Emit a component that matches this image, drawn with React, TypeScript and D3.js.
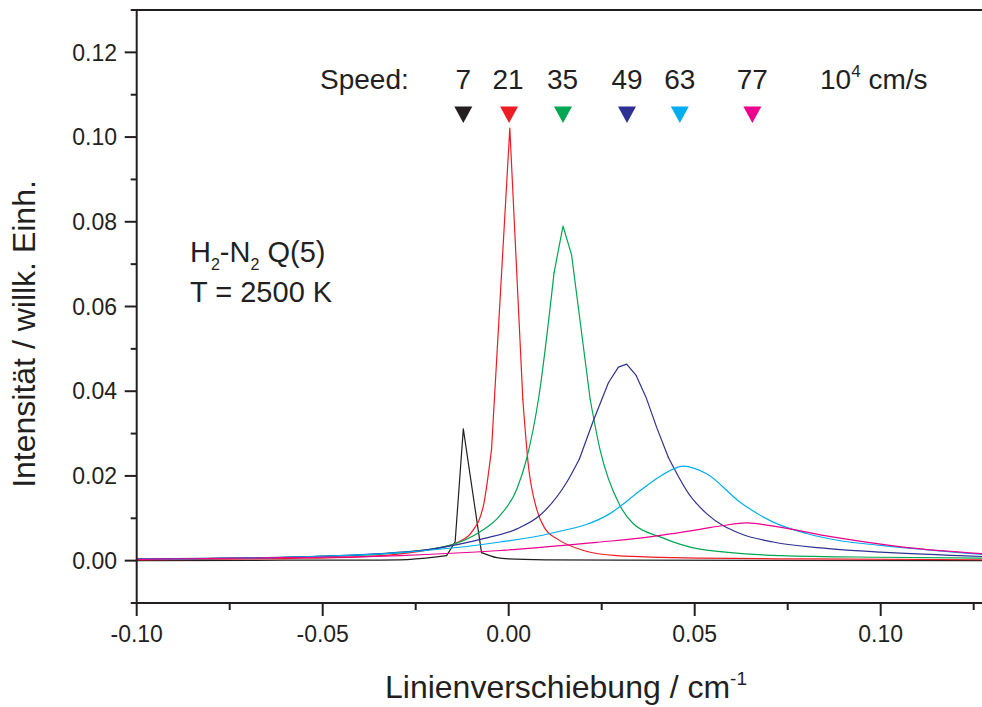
import React from "react";
import * as d3 from "d3";

const W = 982;
const H = 707;

const xTicksMajor = [-0.1, -0.05, 0, 0.05, 0.1];
const xTicksMinor = [-0.075, -0.025, 0.025, 0.075, 0.125];
const yTicksMajor = [0, 0.02, 0.04, 0.06, 0.08, 0.1, 0.12];
const yTicksMinor = [-0.01, 0.01, 0.03, 0.05, 0.07, 0.09, 0.11, 0.13];

const speedLabels = ["7", "21", "35", "49", "63", "77"];
const speedColors = ["#231f20", "#ed1c24", "#00a651", "#2e3192", "#00aeef", "#ec008c"];
const markerX = [-0.0122, 0.0001, 0.0146, 0.0318, 0.0460, 0.0655];
const labelX = [-0.0122, -0.0002, 0.0145, 0.0318, 0.0460, 0.0655];

const blackX = [-0.10, -0.06, -0.04, -0.0292, -0.0194, -0.0167, -0.0144, -0.0122, -0.0073, -0.0032, 0.0, 0.01, 0.03, 0.13];
const blackY = [0.0, 0.0001, 0.0001, 0.0002, 0.0009, 0.0012, 0.0044, 0.0311, 0.0019, 0.0007, 0.0004, 0.0002, 0.0001, 0.0];

const redX = [-0.10, -0.06, -0.04, -0.0292, -0.02, -0.0135, -0.0099, -0.0068, -0.0046, 0.0003, 0.0038, 0.0053, 0.0075, 0.0098, 0.0129, 0.0201, 0.029, 0.0514, 0.08, 0.13];
const redY = [0.0002, 0.0005, 0.0009, 0.0016, 0.0028, 0.0044, 0.0068, 0.013, 0.0264, 0.1021, 0.038, 0.0224, 0.0122, 0.0075, 0.0052, 0.0024, 0.0012, 0.0006, 0.0004, 0.0002];

const greenX = [-0.10, -0.06, -0.04, -0.0292, -0.0158, -0.0077, -0.0023, 0.0022, 0.0048, 0.008, 0.0122, 0.0146, 0.0169, 0.0219, 0.0245, 0.0299, 0.0335, 0.0407, 0.0514, 0.073, 0.10, 0.13];
const greenY = [0.0003, 0.0008, 0.0013, 0.0019, 0.0036, 0.0068, 0.0107, 0.0169, 0.024, 0.0381, 0.068, 0.079, 0.0722, 0.0381, 0.0264, 0.013, 0.0087, 0.0056, 0.0027, 0.0012, 0.0008, 0.0006];

const navyX = [-0.10, -0.056, -0.0292, -0.0203, -0.0068, 0.0022, 0.0084, 0.0156, 0.019, 0.0227, 0.0268, 0.0295, 0.0317, 0.0342, 0.0369, 0.0398, 0.0429, 0.0487, 0.0532, 0.0622, 0.0711, 0.0837, 0.0891, 0.10, 0.13];
const navyY = [0.0004, 0.0009, 0.002, 0.0028, 0.0052, 0.0075, 0.0107, 0.0185, 0.024, 0.0329, 0.042, 0.0457, 0.0464, 0.0438, 0.0386, 0.0314, 0.0244, 0.0154, 0.0111, 0.0064, 0.0044, 0.003, 0.0026, 0.002, 0.0009];

const cyanX = [-0.10, -0.06, -0.0292, -0.0023, 0.0111, 0.0272, 0.0353, 0.0405, 0.0442, 0.0469, 0.0532, 0.0622, 0.0711, 0.0801, 0.0891, 0.10, 0.13];
const cyanY = [0.0003, 0.0008, 0.0019, 0.0044, 0.0064, 0.0111, 0.0165, 0.0198, 0.0216, 0.0223, 0.0205, 0.0138, 0.0091, 0.0064, 0.0047, 0.0036, 0.0013];

const magentaX = [-0.10, -0.06, -0.0292, -0.0023, 0.0246, 0.0353, 0.0442, 0.0514, 0.0577, 0.064, 0.0729, 0.0837, 0.0891, 0.1061, 0.13];
const magentaY = [0.0003, 0.0007, 0.0012, 0.0024, 0.0044, 0.0053, 0.0064, 0.0074, 0.0083, 0.0089, 0.0079, 0.0061, 0.0053, 0.0032, 0.0015];

const seriesX = [blackX, redX, greenX, navyX, cyanX, magentaX];
const seriesY = [blackY, redY, greenY, navyY, cyanY, magentaY];
// index range drawn with straight segments (sharp sampled peak); tails are smooth
const linearFrom = [5, 8, 10, 8, -1, -1];
const linearTo = [8, 10, 13, 16, -1, -1];

const FONT = "'Liberation Sans', Arial, sans-serif";
const INK = "#231f20";

export default function App() {
  const x = d3.scaleLinear().domain([-0.1, 0.13]).range([136.7, 992.3]);
  const y = d3.scaleLinear().domain([-0.01, 0.13]).range([603, 10]);
  const x0 = x(-0.1);
  const yb = y(-0.01);
  const yt = y(0.13);

  const smoothGen = d3
    .line<[number, number]>()
    .x((d) => x(d[0]))
    .y((d) => y(d[1]))
    .curve(d3.curveMonotoneX);
  const linGen = d3
    .line<[number, number]>()
    .x((d) => x(d[0]))
    .y((d) => y(d[1]))
    .curve(d3.curveLinear);

  const paths = seriesX.map((xs, i) => {
    const pts = xs.map((v, j) => [v, seriesY[i][j]] as [number, number]);
    const a = linearFrom[i];
    const b = linearTo[i];
    if (a < 0) return [smoothGen(pts) || ""];
    return [
      smoothGen(pts.slice(0, a + 1)) || "",
      linGen(pts.slice(a, b + 1)) || "",
      smoothGen(pts.slice(b)) || "",
    ];
  });

  const fmt = (v: number) => (Math.abs(v) < 1e-9 ? "0.00" : v.toFixed(2));

  return (
    <svg
      width={W}
      height={H}
      style={{ position: "absolute", left: 0, top: 0, background: "#fff" }}
      fontFamily={FONT}
    >
      <rect x={0} y={0} width={W} height={H} fill="#fff" />
      {paths.map((ps, i) =>
        ps.map((p, k) => (
          <path
            key={i + "-" + k}
            d={p}
            fill="none"
            stroke={speedColors[i]}
            strokeWidth={1.2}
            strokeLinejoin="round"
            strokeLinecap="round"
          />
        ))
      )}
      {/* frame */}
      <line x1={x0} x2={W + 20} y1={yt} y2={yt} stroke={INK} strokeWidth={2} />
      <line x1={x0} x2={W + 20} y1={yb} y2={yb} stroke={INK} strokeWidth={2} />
      <line x1={x0} x2={x0} y1={yt - 1} y2={yb + 1} stroke={INK} strokeWidth={2} />
      {/* y ticks */}
      {yTicksMajor.map((v) => (
        <g key={"ym" + v}>
          <line x1={x0 - 12} x2={x0} y1={y(v)} y2={y(v)} stroke={INK} strokeWidth={2} />
          <text x={117} y={y(v)} dy="0.36em" textAnchor="end" fontSize={23} fill={INK}>
            {fmt(v)}
          </text>
        </g>
      ))}
      {yTicksMinor.map((v) => (
        <line key={"yn" + v} x1={x0 - 6} x2={x0} y1={y(v)} y2={y(v)} stroke={INK} strokeWidth={2} />
      ))}
      {/* x ticks */}
      {xTicksMajor.map((v) => (
        <g key={"xm" + v}>
          <line x1={x(v)} x2={x(v)} y1={yb} y2={yb + 13} stroke={INK} strokeWidth={2} />
          <text x={x(v)} y={642} textAnchor="middle" fontSize={23} fill={INK}>
            {fmt(v)}
          </text>
        </g>
      ))}
      {xTicksMinor.map((v) => (
        <line key={"xn" + v} x1={x(v)} x2={x(v)} y1={yb} y2={yb + 7} stroke={INK} strokeWidth={2} />
      ))}
      {/* axis titles */}
      <text x={385} y={698} fontSize={32} fill={INK}>
        Linienverschiebung / cm
        <tspan dy={-13} fontSize={19}>-1</tspan>
      </text>
      <text transform={`translate(35,${334}) rotate(-90)`} textAnchor="middle" fontSize={32} fill={INK}>
        Intensität / willk. Einh.
      </text>
      {/* speed header */}
      <text x={320} y={89} fontSize={28} fill={INK}>
        Speed:
      </text>
      {speedLabels.map((s, i) => (
        <text key={"sl" + i} x={x(labelX[i])} y={89} textAnchor="middle" fontSize={28} fill={INK}>
          {s}
        </text>
      ))}
      <text x={820} y={89} fontSize={28} fill={INK}>
        10
        <tspan dy={-12} fontSize={17}>4</tspan>
        <tspan dy={12}> cm/s</tspan>
      </text>
      {markerX.map((v, i) => {
        const cx = x(v);
        return (
          <path
            key={"mk" + i}
            d={`M${cx - 9},106.5 L${cx + 9},106.5 L${cx},123 Z`}
            fill={speedColors[i]}
          />
        );
      })}
      {/* annotation */}
      <text x={190} y={262} fontSize={29} fill={INK}>
        H
        <tspan dy={8} fontSize={16}>2</tspan>
        <tspan dy={-8}>-N</tspan>
        <tspan dy={8} fontSize={16}>2</tspan>
        <tspan dy={-8}> Q(5)</tspan>
      </text>
      <text x={190} y={302} fontSize={29} fill={INK}>
        T = 2500 K
      </text>
    </svg>
  );
}
